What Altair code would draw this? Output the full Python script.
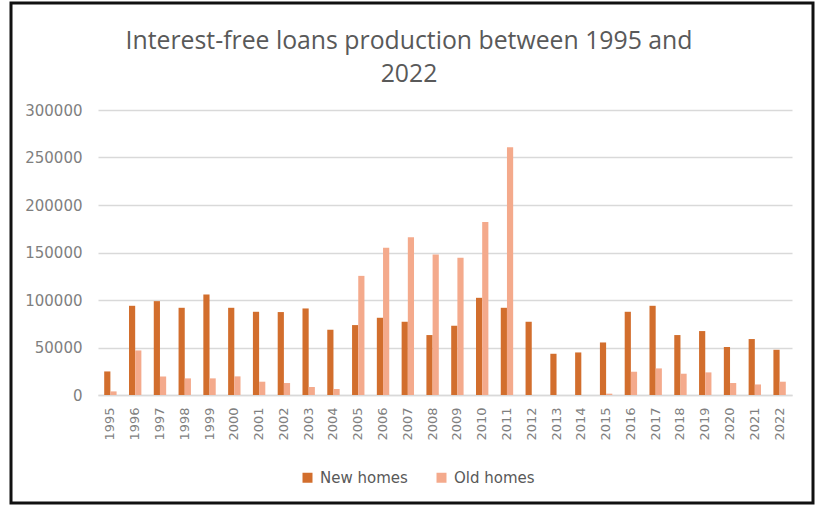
import altair as alt
import pandas as pd

years = [str(y) for y in range(1995, 2023)]
new_homes = [24800, 93900, 98800, 91800, 105800, 91800, 87600, 87300, 91100, 68700,
             73600, 81300, 77100, 63100, 72900, 102300, 91800, 77100, 43400, 44800,
             55300, 87600, 93900, 63100, 67300, 50500, 58900, 47600]
old_homes = [3800, 46900, 19600, 17500, 17500, 19600, 14000, 12600, 8400, 6300,
             125400, 154900, 166100, 147800, 144400, 182200, 260800, 0, 0, 0,
             1400, 24500, 28000, 22400, 23800, 12600, 11100, 14000]
series = ["New homes", "Old homes"]
colors = ["#D26E2D", "#F4AA8C"]
y_ticks = [0, 50000, 100000, 150000, 200000, 250000, 300000]
title_lines = ["Interest-free loans production between 1995 and", "2022"]

rows = []
for i, y in enumerate(years):
    rows.append({"year": y, "series": series[0], "value": new_homes[i]})
    rows.append({"year": y, "series": series[1], "value": old_homes[i]})
df = pd.DataFrame(rows)

bars = alt.Chart(df).mark_bar().encode(
    x=alt.X("year:N", sort=years,
            scale=alt.Scale(paddingInner=0.5, paddingOuter=0.25),
            axis=alt.Axis(title=None, labelAngle=270, ticks=False, labelPadding=12,
                          labelFont="DejaVu Sans", labelFontSize=13, labelColor="#7f7f7f",
                          domainColor="#d9d9d9", domainWidth=1.5, grid=False)),
    xOffset=alt.XOffset("series:N", sort=series),
    y=alt.Y("value:Q", scale=alt.Scale(domain=[0, 300000]),
            axis=alt.Axis(title=None, values=y_ticks, format="d", domain=False, ticks=False,
                          labelPadding=16, labelFont="DejaVu Sans", labelFontSize=15,
                          labelColor="#7f7f7f", gridColor="#d9d9d9", gridWidth=1.5)),
    color=alt.Color("series:N", sort=series,
                    scale=alt.Scale(domain=series, range=colors),
                    legend=alt.Legend(title=None, orient="none", direction="horizontal",
                                      legendX=202, legendY=360, symbolType="square",
                                      symbolSize=100, symbolStrokeWidth=0,
                                      labelFont="DejaVu Sans", labelFontSize=15,
                                      labelColor="#595959", labelOffset=5,
                                      columnPadding=26)),
)

one = pd.DataFrame({"a": [0]})

frame = alt.Chart(one).mark_rect(
    filled=False, stroke="#111111", strokeWidth=3
).encode(
    x=alt.value(-87), x2=alt.value(715), y=alt.value(-107), y2=alt.value(393)
)

title1 = alt.Chart(one).mark_text(
    font="Open Sans", fontSize=24.8, color="#595959", align="center", baseline="alphabetic"
).encode(x=alt.value(311), y=alt.value(-61), text=alt.value(title_lines[0]))

title2 = alt.Chart(one).mark_text(
    font="Open Sans", fontSize=24.8, color="#595959", align="center", baseline="alphabetic"
).encode(x=alt.value(311), y=alt.value(-28), text=alt.value(title_lines[1]))

chart = alt.layer(bars, frame, title1, title2).properties(
    width=694, height=285,
    background="white",
    autosize=alt.AutoSizeParams(type="none"),
    padding={"left": 98, "top": 110, "right": 30, "bottom": 111},
).configure_view(stroke=None)

chart.save("out.html", embed_options={"renderer": "svg", "actions": False})
